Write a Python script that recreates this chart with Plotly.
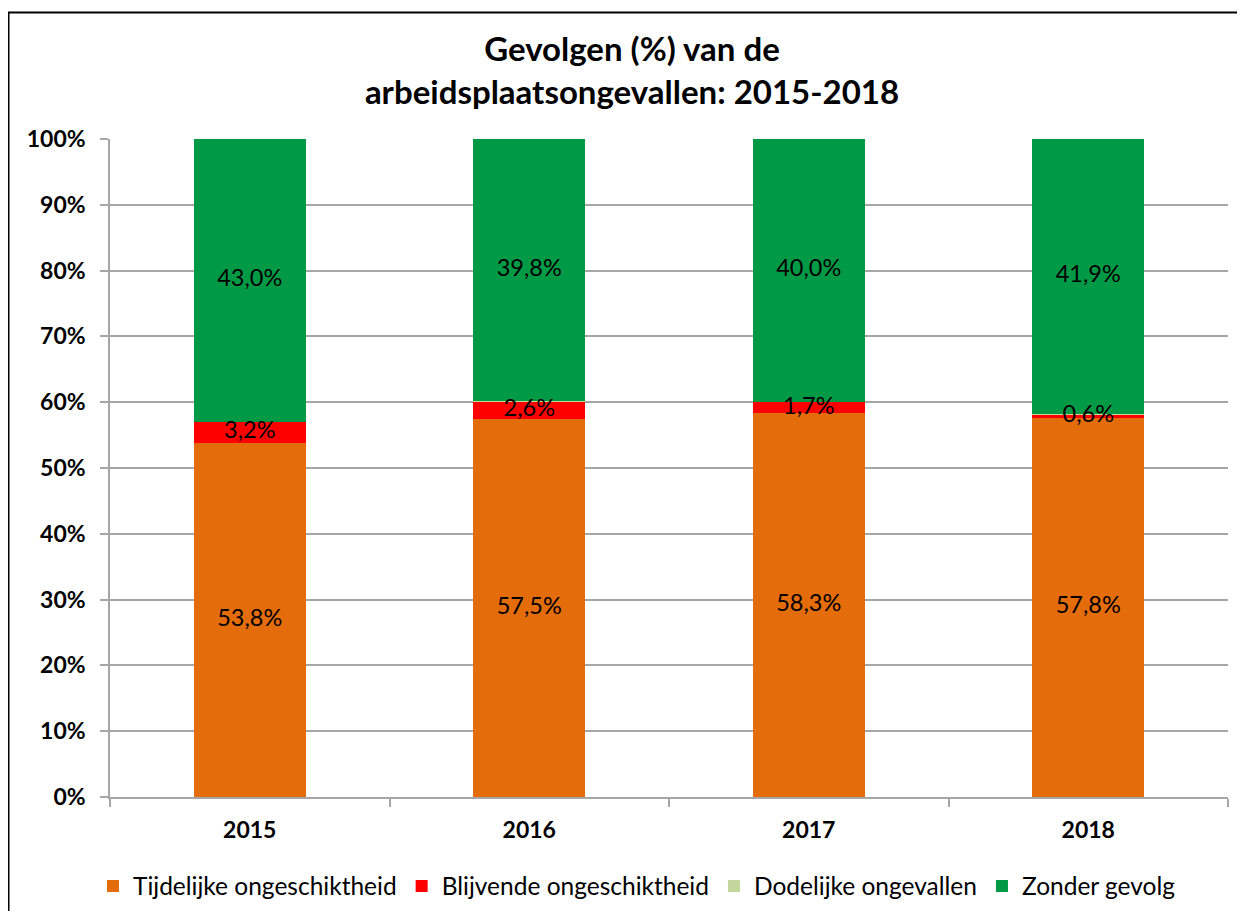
import plotly.graph_objects as go

years = ["2015", "2016", "2017", "2018"]
series_names = ["Tijdelijke ongeschiktheid", "Blijvende ongeschiktheid",
                "Dodelijke ongevallen", "Zonder gevolg"]
tijdelijke = [53.8, 57.5, 58.3, 57.8]
blijvende = [3.2, 2.6, 1.7, 0.6]
dodelijke = [0.0, 0.1, 0.0, 0.1]
zonder = [43.0, 39.8, 40.0, 41.9]
colors = ["#E46C0A", "#FF0000", "#C3D69B", "#009A46"]
show_labels = [True, True, False, True]
y_ticks = list(range(0, 101, 10))

OFF = 8  # page body margin
W, H = 1245 - 2 * OFF, 919 - 2 * OFF
L, R, T, B = 110 - OFF, 1228 - OFF, 139 - OFF, 797 - OFF  # plot area in figure pixels
pw, ph = R - L, B - T

def px(x):  # page pixel -> paper
    return (x - OFF - L) / pw

def py(y):
    return (B - (y - OFF)) / ph

def fmt(v):
    return f"{v:.1f}%".replace(".", ",")

FONT = "Lato, Open Sans, sans-serif"
all_series = [tijdelijke, blijvende, dodelijke, zonder]
totals = [sum(s[i] for s in all_series) for i in range(len(years))]

fig = go.Figure()
for name, vals, col in zip(series_names, all_series, colors):
    fig.add_trace(go.Bar(
        x=years, y=vals, name=name,
        marker=dict(color=col, line=dict(width=0)),
        width=0.4, textposition="none",
    ))

# data labels drawn on top of all bars (centre of each normalised segment)
cum = [0.0] * len(years)
for vals, lab in zip(all_series, show_labels):
    mids = [(cum[i] + vals[i] / 2) / totals[i] * 100 for i in range(len(years))]
    if lab:
        fig.add_trace(go.Scatter(
            x=years, y=mids, mode="text", text=[fmt(v) for v in vals],
            textposition="middle center", showlegend=False, hoverinfo="skip",
            textfont=dict(family=FONT, size=23.5, color="black"), cliponaxis=False,
        ))
    cum = [cum[i] + vals[i] for i in range(len(years))]

fig.update_layout(
    width=W, height=H,
    barmode="stack", barnorm="percent",
    paper_bgcolor="white", plot_bgcolor="white",
    margin=dict(l=L, r=W - R, t=T, b=H - B, pad=0),
    title=dict(
        text="<b>Gevolgen (%) van de<br>arbeidsplaatsongevallen: 2015-2018</b>",
        x=(632 - OFF) / W, xanchor="center", xref="container",
        y=1 - 53 / H, yanchor="middle", yref="container",
        font=dict(family=FONT, size=33, color="black"),
    ),
    showlegend=True,
    legend=dict(
        orientation="h",
        x=(637 - OFF) / W, xanchor="center", xref="container",
        y=1 - (886 - OFF) / H, yanchor="middle", yref="container",
        font=dict(family=FONT, size=24.5, color="black"),
        traceorder="normal", bgcolor="rgba(0,0,0,0)",
    ),
    font=dict(family=FONT, color="black"),
    shapes=[dict(type="rect", xref="paper", yref="paper",
                 x0=px(8.5), x1=px(1300), y0=py(1000), y1=py(12.5),
                 line=dict(color="black", width=2), fillcolor="rgba(0,0,0,0)", layer="below")],
)

fig.update_yaxes(
    range=[0, 100], tickvals=y_ticks, ticktext=[f"{v}%" for v in y_ticks],
    showgrid=True, gridcolor="#A6A6A6", gridwidth=1.5,
    showline=True, linecolor="#A6A6A6", linewidth=1.5,
    ticks="outside", ticklen=8, tickcolor="#A6A6A6", tickwidth=1.5,
    tickfont=dict(family=FONT, size=23, color="black", weight="bold"),
    ticklabelstandoff=10, zeroline=False,
)
fig.update_xaxes(
    type="category", tickson="boundaries",
    showline=True, linecolor="#A6A6A6", linewidth=1.5,
    ticks="outside", ticklen=8, tickcolor="#A6A6A6", tickwidth=1.5,
    tickfont=dict(family=FONT, size=23, color="black", weight="bold"),
    ticklabelstandoff=12, showgrid=False,
)

fig.write_html("out.html")
